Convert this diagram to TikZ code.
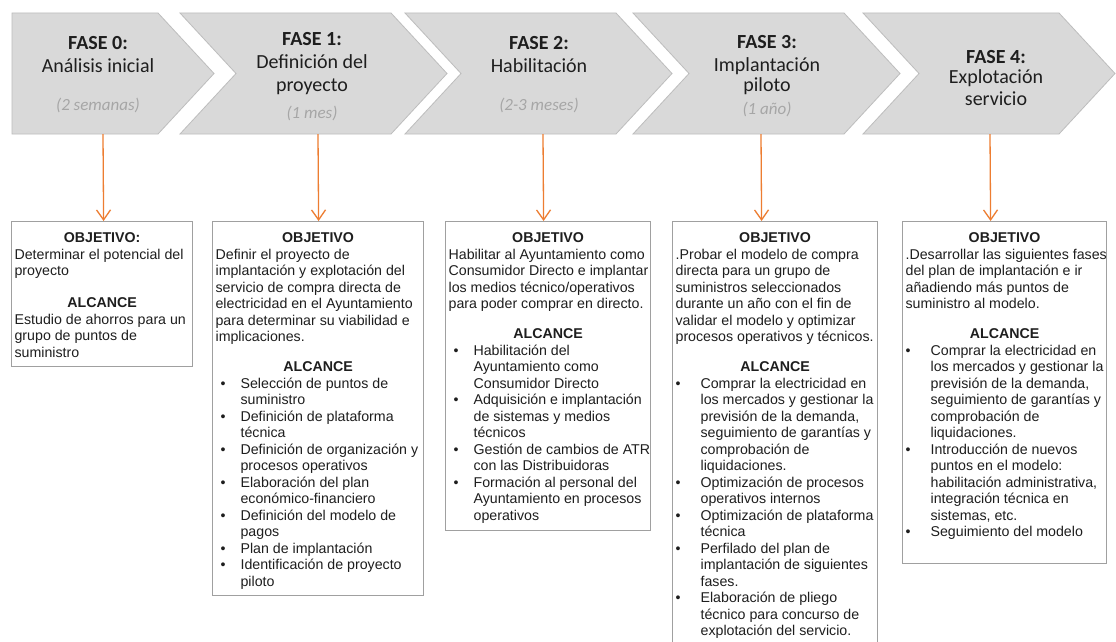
\documentclass[tikz,border=0pt]{standalone}
\usepackage{fontspec}
\setmainfont{Liberation Sans}
\newfontfamily\carl{Carlito}
\usetikzlibrary{arrows.meta}
\definecolor{chevfill}{HTML}{D9D9D9}
\definecolor{chevline}{HTML}{BDBDBD}
\definecolor{orng}{HTML}{ED7D31}
\definecolor{boxline}{HTML}{A0A0A0}
\definecolor{txt}{HTML}{1E1E1E}
\definecolor{durc}{HTML}{A6A6A6}
\newlength\bw
% box content: width, height, first title, body
\newcommand\bx[4]{\makebox[#1][l]{\parbox[c][#2][t]{\dimexpr#1+40pt\relax}{\setlength\bw{#1}\fontsize{14.2}{16.5}\selectfont\color{txt}\setlength\parindent{0pt}\raggedright\rule{0pt}{21pt}\makebox[\bw]{\textbf{#3}}\par #4}}}
\newcommand\alc[1][13.5pt]{\par\vspace{#1}\makebox[\bw]{\textbf{ALCANCE}}\par}
\newcommand\bitem[2][0pt]{\par\hangindent=25pt\hangafter=1\makebox[25pt][l]{\hspace{#1}\textbullet}{\let\\\newline #2}\par}
\newcommand\dur[1]{{\color{durc}\itshape\fontsize{17}{20}\selectfont #1}}
\begin{document}
\begin{tikzpicture}[x=1pt,y=-1pt,
  chev/.style={fill=chevfill,draw=chevline,line width=0.8pt},
  phase/.style={inner sep=0pt,font=\carl\fontsize{20}{23}\selectfont,text=txt},
  box/.style={draw=boxline,line width=1.2pt,fill=white,inner xsep=3pt,inner ysep=0pt,anchor=north west,text=txt},
  arr/.style={draw=orng,line width=1.3pt,-{Straight Barb[length=10pt,width=14pt]}}]
\useasboundingbox (0,0) rectangle (1116,642);
\clip (0,0) rectangle (1116,642);
\fill[white] (0,0) rectangle (1116,642);

% chevrons
\path[chev] (12,13) -- (158,13) -- (214,73.5) -- (158,134) -- (12,134) -- cycle;
\path[chev] (180,13) -- (391,13) -- (447,73.5) -- (391,134) -- (180,134) -- (236,73.5) -- cycle;
\path[chev] (405,13) -- (616,13) -- (672,73.5) -- (616,134) -- (405,134) -- (461,73.5) -- cycle;
\path[chev] (633,13) -- (844,13) -- (900,73.5) -- (844,134) -- (633,134) -- (689,73.5) -- cycle;
\path[chev] (863,13) -- (1059,13) -- (1115,73.5) -- (1059,134) -- (863,134) -- (919,73.5) -- cycle;

\node[phase] (f0) at (98,73.5) {\parbox[c][121pt][t]{170pt}{\centering\rule{0pt}{36pt}\textbf{FASE 0:}\\Análisis inicial\\[15pt]\dur{(2 semanas)}}};
\node[phase] (f1) at (312,73.5) {\parbox[c][121pt][t]{170pt}{\centering\rule{0pt}{32pt}\textbf{FASE 1:}\\Definición del\\proyecto\\[5pt]\dur{(1 mes)}}};
\node[phase] (f2) at (539,73.5) {\parbox[c][121pt][t]{170pt}{\centering\rule{0pt}{37pt}\textbf{FASE 2:}\\Habilitación\\[15pt]\dur{(2-3 meses)}}};
\node[phase] (f3) at (767,73.5) {\parbox[c][121pt][t]{170pt}{\centering\rule{0pt}{35pt}\textbf{FASE 3:}\\Implantación\\[-2pt]piloto\\\dur{(1 año)}}};
\node[phase] (f4) at (996,73.5) {\parbox[c][121pt][t]{170pt}{\centering\rule{0pt}{50pt}\textbf{FASE 4:}\\[-2pt]Explotación\\[-2pt]servicio}};

% boxes
\node[box] (b0) at (11,221) {\bx{175pt}{145pt}{OBJETIVO:}{%
Determinar el potencial del\\proyecto
\alc[15.5pt]
Estudio de ahorros para un\\grupo de puntos de\\suministro}};

\node[box] (b1) at (212,221) {\bx{205pt}{374pt}{OBJETIVO}{%
Definir el proyecto de\\implantación y explotación del\\servicio de compra directa de\\electricidad en el Ayuntamiento\\para determinar su viabilidad e\\implicaciones.
\alc
\bitem[5pt]{Selección de puntos de\\suministro}
\bitem[5pt]{Definición de plataforma\\técnica}
\bitem[5pt]{Definición de organización y\\procesos operativos}
\bitem[5pt]{Elaboración del plan\\económico-financiero}
\bitem[5pt]{Definición del modelo de\\pagos}
\bitem[5pt]{Plan de implantación}
\bitem[5pt]{Identificación de proyecto\\piloto}}};

\node[box] (b2) at (445,221) {\bx{199pt}{309pt}{OBJETIVO}{%
Habilitar al Ayuntamiento como\\Consumidor Directo e implantar\\los medios técnico/operativos\\para poder comprar en directo.
\alc
\bitem[5pt]{Habilitación del\\Ayuntamiento como\\Consumidor Directo}
\bitem[5pt]{Adquisición e implantación\\de sistemas y medios\\técnicos}
\bitem[5pt]{Gestión de cambios de ATR\\con las Distribuidoras}
\bitem[5pt]{Formación al personal del\\Ayuntamiento en procesos\\operativos}}};

\node[box] (b3) at (672,221) {\bx{199pt}{440pt}{OBJETIVO}{%
.Probar el modelo de compra\\directa para un grupo de\\suministros seleccionados\\durante un año con el fin de\\validar el modelo y optimizar\\procesos operativos y técnicos.
\alc
\bitem{Comprar la electricidad en\\los mercados y gestionar la\\previsión de la demanda,\\seguimiento de garantías y\\comprobación de\\liquidaciones.}
\bitem{Optimización de procesos\\operativos internos}
\bitem{Optimización de plataforma\\técnica}
\bitem{Perfilado del plan de\\implantación de siguientes\\fases.}
\bitem{Elaboración de pliego\\técnico para concurso de\\explotación del servicio.}}};

\node[box] (b4) at (902,221) {\bx{198pt}{342pt}{OBJETIVO}{%
.Desarrollar las siguientes fases\\del plan de implantación e ir\\añadiendo más puntos de\\suministro al modelo.
\alc
\bitem{Comprar la electricidad en\\los mercados y gestionar la\\previsión de la demanda,\\seguimiento de garantías y\\comprobación de\\liquidaciones.}
\bitem{Introducción de nuevos\\puntos en el modelo:\\habilitación administrativa,\\integración técnica en\\sistemas, etc.}
\bitem{Seguimiento del modelo}}};

% arrows
\draw[arr] ([xshift=5pt]f0.south) -- ([xshift=1.5pt]b0.north);
\draw[arr] ([xshift=6pt]f1.south) -- ([xshift=0.5pt]b1.north);
\draw[arr] ([xshift=4pt]f2.south) -- ([xshift=-4.5pt]b2.north);
\draw[arr] ([xshift=-6pt]f3.south) -- ([xshift=-13.5pt]b3.north);
\draw[arr] ([xshift=-6pt]f4.south) -- ([xshift=-14pt]b4.north);
\end{tikzpicture}
\end{document}
